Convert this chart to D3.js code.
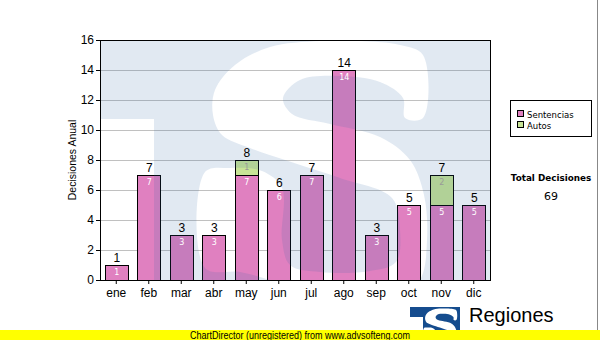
<!DOCTYPE html>
<html><head><meta charset="utf-8">
<script src="https://cdn.jsdelivr.net/npm/d3@7"></script>
<style>body{margin:0;background:#fff} svg{display:block}</style>
</head><body>
<svg id="c" width="600" height="340"></svg>
<script>
const months = ["ene","feb","mar","abr","may","jun","jul","ago","sep","oct","nov","dic"];
const sentencias = [1,7,3,3,7,6,7,14,3,5,5,5];
const autos = [0,0,0,0,1,0,0,0,0,0,2,0];
const yTicks = [0,2,4,6,8,10,12,14,16];
const seriesNames = ["Sentencias","Autos"];
const seriesColors = ["#e080c0","#c8e496"];
const yTitle = "Decisiones Anual";
const totalTitle = "Total Decisiones";
const brandName = "Regiones";
const brandSub = "Tribunal Supremo de Justicia";
const footer = "ChartDirector (unregistered) from www.advsofteng.com";

const svg = d3.select("#c");
const P = {l:100, r:490, t:40, b:280};
const x = d3.scaleBand().domain(months).range([P.l, P.r]).paddingInner(0.3).paddingOuter(0.15);
const y = d3.scaleLinear().domain([0,16]).range([P.b, P.t]);
const AR = "Liberation Sans, Arial, sans-serif";
const DV = "DejaVu Sans, Verdana, sans-serif";

svg.append("rect").attr("width",600).attr("height",340).attr("fill","#fff");

// grid
svg.append("g").selectAll("line").data(yTicks.filter(d=>d>0 && d<16)).join("line")
  .attr("x1",P.l).attr("x2",P.r).attr("y1",d=>y(d)+0.5).attr("y2",d=>y(d)+0.5)
  .attr("stroke","#c0c0c0").attr("stroke-width",1);

// bars
const data = months.map((m,i)=>({m, s:sentencias[i], a:autos[i]}));
const gb = svg.append("g").attr("shape-rendering","crispEdges");
gb.selectAll("rect.s").data(data).join("rect")
  .attr("x",d=>Math.round(x(d.m))+0.5).attr("width",Math.round(x.bandwidth()))
  .attr("y",d=>y(d.s)+0.5).attr("height",d=>y(0)-y(d.s))
  .attr("fill",seriesColors[0]).attr("stroke","#000");
gb.selectAll("rect.a").data(data.filter(d=>d.a>0)).join("rect")
  .attr("x",d=>Math.round(x(d.m))+0.5).attr("width",Math.round(x.bandwidth()))
  .attr("y",d=>y(d.s+d.a)+0.5).attr("height",d=>y(d.s)-y(d.s+d.a))
  .attr("fill",seriesColors[1]).attr("stroke","#000");

// ---- TS logo "S" outline (logo drawing units; box 205..427 x 41..312)
const S_OUT = [[423,55],[400,45],[360,41],[320,41],[270,47],[235,65],[215,90],[213,115],[222,135],
  [250,148],[285,160],[340,178],[392,198],[400,230],[396,262],[370,271],[320,272],[290,265],
  [282,240],[282,188],[262,171],[230,168],[205,172],[205,268],[240,272],[275,282],[330,310],
  [390,305],[420,280],[427,240],[424,195],[410,160],[380,137],[330,124],[292,114],[283,98],
  [300,80],[340,76],[380,82],[403,98],[405,118],[423,118]];
function sPath(x0,y0,x1,y1){
  const fx = d3.scaleLinear().domain([205,427]).range([x0,x1]);
  const fy = d3.scaleLinear().domain([41,312]).range([y0,y1]);
  return d3.line().x(p=>fx(p[0])).y(p=>fy(p[1])).curve(d3.curveCatmullRomClosed.alpha(0.5))(S_OUT);
}

// watermark overlay
const defs = svg.append("defs");
defs.append("clipPath").attr("id","pc").append("rect")
  .attr("x",P.l).attr("y",P.t).attr("width",P.r-P.l).attr("height",P.b-P.t);
const mask = defs.append("mask").attr("id","wm");
mask.append("rect").attr("x",0).attr("y",0).attr("width",600).attr("height",340).attr("fill","#fff");
mask.append("rect").attr("x",P.l-5).attr("y",119).attr("width",154-P.l+5).attr("height",200).attr("fill","#000");
mask.append("path").attr("d",sPath(205,41,427,312)).attr("fill","#000");
svg.append("g").attr("clip-path","url(#pc)").append("rect")
  .attr("x",P.l).attr("y",P.t).attr("width",P.r-P.l).attr("height",P.b-P.t)
  .attr("fill","rgb(40,100,160)").attr("fill-opacity",0.14).attr("mask","url(#wm)");

// inner labels
svg.append("g").selectAll("text").data(data).join("text")
  .attr("x",d=>x(d.m)+x.bandwidth()/2+0.5).attr("y",d=>y(d.s)+10)
  .attr("text-anchor","middle").attr("font-family",DV).attr("font-size",8).attr("fill","#fff")
  .text(d=>d.s);
svg.append("g").selectAll("text").data(data.filter(d=>d.a>0)).join("text")
  .attr("x",d=>x(d.m)+x.bandwidth()/2+0.5).attr("y",d=>y(d.s+d.a)+10)
  .attr("text-anchor","middle").attr("font-family",DV).attr("font-size",8).attr("fill","#999")
  .text(d=>d.a);
// totals
svg.append("g").selectAll("text").data(data).join("text")
  .attr("x",d=>x(d.m)+x.bandwidth()/2+0.5).attr("y",d=>y(d.s+d.a)-3)
  .attr("text-anchor","middle").attr("font-family",AR).attr("font-size",12).attr("fill","#000")
  .text(d=>d.s+d.a);

// axes
const ya = svg.append("g").attr("transform",`translate(${P.l},0)`)
  .call(d3.axisLeft(y).tickValues(yTicks).tickSize(4).tickPadding(2).tickSizeOuter(0));
ya.select(".domain").remove();
ya.selectAll("text").attr("font-family",AR).attr("font-size",12).attr("fill","#000");
const xa = svg.append("g").attr("transform",`translate(0,${P.b})`)
  .call(d3.axisBottom(x).tickSize(4).tickPadding(4).tickSizeOuter(0));
xa.select(".domain").remove();
xa.selectAll("text").attr("font-family",AR).attr("font-size",12).attr("fill","#000");
svg.append("rect").attr("x",P.l+0.5).attr("y",P.t+0.5).attr("width",P.r-P.l).attr("height",P.b-P.t)
  .attr("fill","none").attr("stroke","#000");

svg.append("text").attr("transform","translate(76,160) rotate(-90)")
  .attr("text-anchor","middle").attr("font-family",AR).attr("font-size",10.5).text(yTitle);

// legend
svg.append("rect").attr("x",510.5).attr("y",100.5).attr("width",81).attr("height",36)
  .attr("fill","#fff").attr("stroke","#000");
seriesNames.forEach((n,i)=>{
  svg.append("rect").attr("x",517.5).attr("y",110.5+i*11).attr("width",6).attr("height",6)
    .attr("fill",seriesColors[i]).attr("stroke","#000");
  svg.append("text").attr("x",527).attr("y",117.5+i*11).attr("font-family",DV).attr("font-size",8.5)
    .text(n);
});
const total = d3.sum(sentencias)+d3.sum(autos);
svg.append("text").attr("x",551).attr("y",181).attr("text-anchor","middle").attr("font-family",DV)
  .attr("font-weight","bold").attr("font-size",8.8).text(totalTitle);
svg.append("text").attr("x",551).attr("y",200).attr("text-anchor","middle").attr("font-family",DV)
  .attr("font-size",11).text(total);

// brand logo
const lg = svg.append("g");
lg.append("rect").attr("x",410).attr("y",307).attr("width",50).attr("height",33).attr("fill","#154c8e");
lg.append("rect").attr("x",410).attr("y",317).attr("width",13).attr("height",23).attr("fill","#fff");
lg.append("path").attr("d",sPath(424,308.5,457,349)).attr("fill","#fff");
svg.append("text").attr("x",469).attr("y",322).attr("font-family",AR).attr("font-size",20).text(brandName);
svg.append("text").attr("x",470).attr("y",340).attr("font-family",AR).attr("font-size",11.5).text(brandSub);

svg.append("line").attr("x1",597.5).attr("x2",597.5).attr("y1",0).attr("y2",330).attr("stroke","#888");
svg.append("rect").attr("x",0).attr("y",330).attr("width",600).attr("height",10).attr("fill","#ffff00");
svg.append("text").attr("x",190).attr("y",338.5).attr("font-family",AR).attr("font-size",10)
  .attr("textLength",220).attr("lengthAdjust","spacingAndGlyphs").text(footer);
</script>
</body></html>
